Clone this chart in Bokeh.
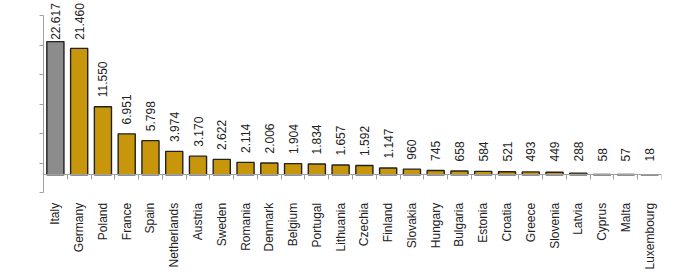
import numpy as np
from bokeh.plotting import figure
from bokeh.models import Range1d, FixedTicker, ColumnDataSource, CustomJSTickFormatter
from bokeh.core.properties import value
from bokeh.embed import file_html
from bokeh.resources import INLINE

countries = ["Italy", "Germany", "Poland", "France", "Spain", "Netherlands", "Austria",
             "Sweden", "Romania", "Denmark", "Belgium", "Portugal", "Lithuania", "Czechia",
             "Finland", "Slovakia", "Hungary", "Bulgaria", "Estonia", "Croatia", "Greece",
             "Slovenia", "Latvia", "Cyprus", "Malta", "Luxembourg"]
values = [22617, 21460, 11550, 6951, 5798, 3974, 3170, 2622, 2114, 2006, 1904, 1834,
          1657, 1592, 1147, 960, 745, 658, 584, 521, 493, 449, 288, 58, 57, 18]
labels = ["22.617", "21.460", "11.550", "6.951", "5.798", "3.974", "3.170", "2.622",
          "2.114", "2.006", "1.904", "1.834", "1.657", "1.592", "1.147", "960", "745",
          "658", "584", "521", "493", "449", "288", "58", "57", "18"]
y_ticks = [-3000, 2000, 7000, 12000, 17000, 22000, 27000]

GOLD = "#C8960A"
GREY = "#8C8C8C"
FONT = "Liberation Sans"

n = len(countries)
xs = np.arange(n)
vals = np.array(values, dtype=float)
colors = [GREY if c == "Italy" else GOLD for c in countries]
label_y = np.minimum(np.maximum(vals, 650) + 1610, 22910)

src = ColumnDataSource(dict(x=xs, top=vals, color=colors, ly=label_y, lbl=labels))

p = figure(width=700, height=274, output_backend="svg", toolbar_location=None,
           x_range=Range1d(-0.5, n - 0.5), y_range=Range1d(-16919, 29590),
           min_border_left=43, min_border_right=39, min_border_top=0, min_border_bottom=0)
p.outline_line_color = None
p.xgrid.visible = False
p.ygrid.visible = False
p.background_fill_color = "white"
p.border_fill_color = "white"

p.vbar(x="x", top="top", bottom=0, width=0.72, fill_color="color",
       line_color="#222222", line_width=1.4, source=src)

p.text(x="x", y="ly", text="lbl", angle=np.pi / 2, text_align="left",
       text_baseline="middle", text_font=value(FONT), text_font_size="12px",
       text_color="#222222", source=src)

AX = "#A0A0A0"
xa = p.xaxis[0]
xa.fixed_location = 0
xa.ticker = FixedTicker(ticks=[int(i) for i in xs],
                        minor_ticks=[float(b) for b in (np.arange(n + 1) - 0.5)])
xa.major_label_overrides = {int(i): c for i, c in zip(xs, countries)}
xa.major_label_orientation = np.pi / 2
xa.major_tick_out = 0
xa.major_tick_in = 0
xa.minor_tick_out = 5
xa.minor_tick_in = 0
xa.minor_tick_line_color = AX
xa.axis_line_color = AX
xa.major_label_standoff = 23
xa.major_label_text_font = FONT
xa.major_label_text_font_size = "12px"
xa.major_label_text_color = "#222222"

ya = p.yaxis[0]
ya.ticker = FixedTicker(ticks=y_ticks)
ya.bounds = (y_ticks[0], y_ticks[-1])
ya.major_tick_out = 4
ya.major_tick_in = 0
ya.minor_tick_line_color = None
ya.major_tick_line_color = AX
ya.axis_line_color = AX
ya.formatter = CustomJSTickFormatter(code="return ''")

open("out.html", "w").write(file_html(p, INLINE))
